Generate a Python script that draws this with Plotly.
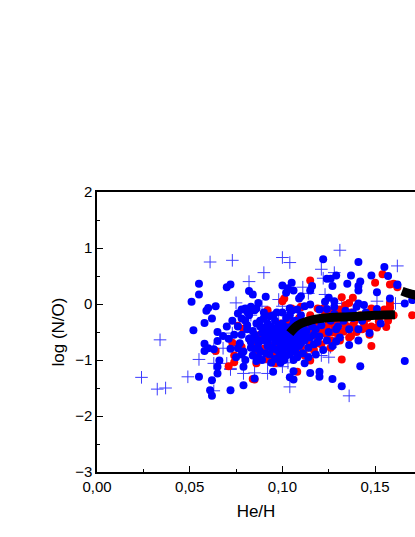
import plotly.graph_objects as go

# He/H vs log(N/O) -- filled blue and red circles, blue plus signs, black model track
blue_x = [
    0.055, 0.055, 0.051, 0.060, 0.064, 0.070, 0.072, 0.082, 0.059, 0.062, 0.058, 0.052,
    0.065, 0.068, 0.065, 0.071, 0.058, 0.058, 0.060, 0.063, 0.076, 0.078, 0.076, 0.078,
    0.079, 0.065, 0.065, 0.055, 0.062, 0.061, 0.062, 0.072, 0.079, 0.066,
    0.122, 0.124, 0.126, 0.084, 0.091, 0.087, 0.085, 0.100, 0.105, 0.103, 0.102, 0.106,
    0.110, 0.109, 0.116, 0.115, 0.112, 0.115, 0.120, 0.125, 0.128, 0.123, 0.128, 0.104, 0.124,
    0.141, 0.155, 0.137, 0.129, 0.148, 0.157, 0.135, 0.142, 0.141, 0.141, 0.127, 0.162,
    0.151, 0.158, 0.166, 0.170, 0.141, 0.144, 0.162,
    0.166, 0.142, 0.132, 0.127, 0.141, 0.147, 0.141, 0.136, 0.129, 0.129, 0.138, 0.151,
    0.120, 0.120, 0.115, 0.104, 0.106, 0.095, 0.112, 0.106, 0.085,
    0.080, 0.081, 0.082, 0.083, 0.084, 0.085, 0.086, 0.087, 0.088, 0.089, 0.090, 0.090,
    0.091, 0.092, 0.093, 0.094, 0.094, 0.095, 0.096, 0.096, 0.097, 0.097, 0.098, 0.098,
    0.099, 0.099, 0.100, 0.100, 0.101, 0.101, 0.102, 0.102, 0.103, 0.103, 0.104, 0.104,
    0.105, 0.105, 0.106, 0.106, 0.107, 0.107, 0.108, 0.108, 0.109, 0.110, 0.110, 0.111,
    0.112, 0.112, 0.113, 0.114, 0.115, 0.116, 0.117, 0.118, 0.118, 0.120, 0.121, 0.122,
    0.123, 0.124, 0.125, 0.126, 0.127, 0.128, 0.130, 0.131, 0.133, 0.134, 0.136, 0.138,
    0.140, 0.143, 0.145, 0.150, 0.153,
    0.078, 0.077, 0.079, 0.076, 0.080, 0.082, 0.083, 0.085, 0.086, 0.088, 0.089, 0.091,
    0.092, 0.093, 0.095, 0.095, 0.097, 0.098, 0.099, 0.100, 0.101, 0.102, 0.103, 0.104,
    0.105, 0.106, 0.107, 0.108, 0.109, 0.110,
    0.072, 0.074, 0.075, 0.070, 0.073, 0.080, 0.083, 0.086, 0.104, 0.078, 0.081,
    0.081, 0.083, 0.084, 0.086, 0.087, 0.088, 0.089, 0.091, 0.092, 0.093, 0.094, 0.096,
    0.097, 0.098, 0.099, 0.100, 0.101, 0.102, 0.103, 0.105, 0.106, 0.107, 0.108, 0.109,
    0.111, 0.113, 0.114, 0.116, 0.117, 0.119, 0.087, 0.090, 0.093, 0.096, 0.099, 0.102,
]
blue_y = [
    0.36, 0.17, 0.04, -0.07, -0.04, 0.30, 0.35, 0.23, -0.12, -0.26, -0.34, -0.47,
    -0.50, -0.57, -0.66, -0.62, -0.71, -0.84, -0.79, -0.81, -0.17, -0.26, -0.79, -0.90,
    -1.12, -1.12, -1.24, -1.30, -1.36, -1.54, -1.64, -1.54, -1.45, -1.01,
    0.80, 0.45, 0.45, 0.17, 0.13, 0.02, -0.11, 0.33, 0.38, 0.28, 0.20, 0.24,
    0.14, 0.10, 0.32, 0.24, -0.04, -0.01, -0.10, 0.11, 0.05, 0.04, -0.05, -0.08, -0.09,
    0.75, 0.66, 0.51, 0.51, 0.51, 0.50, 0.36, 0.40, 0.32, 0.24, 0.32, 0.35,
    0.21, 0.10, 0.01, 0.07, 0.01, -0.02, 0.34,
    -1.02, -1.11, -1.47, -1.34, -0.45, -0.52, -0.65, -0.73, -0.67, -0.45, -0.15, -0.09,
    -1.30, -1.21, -1.23, -1.31, -1.35, -1.21, -1.06, -1.20, -1.33,
    -0.30, -0.45, -0.62, -0.78, -0.92, -0.55, -0.35, -0.70, -0.85, -1.00, -0.25, -0.48,
    -0.60, -0.75, -0.90, -0.40, -1.05, -0.55, -0.68, -0.30, -0.82, -0.15, -0.45, -0.95,
    -0.60, -0.72, -0.35, -0.85, -0.50, -1.00, -0.65, -0.25, -0.78, -0.42, -0.90, -0.58,
    -0.70, -0.12, -0.48, -0.82, -0.30, -0.62, -0.95, -0.40, -0.75, -0.55, -0.20, -0.88,
    -0.65, -0.35, -0.48, -0.78, -0.60, -0.28, -0.72, -0.45, -0.90, -0.58, -0.38, -0.82,
    -0.25, -0.65, -0.50, -0.30, -0.75, -0.18, -0.40, -0.60, -0.30, -0.12, -0.45, -0.25,
    -0.05, -0.30, -0.15, -0.20, -0.35,
    -0.55, -0.70, -0.85, -0.40, -1.00, -0.20, -0.05, -0.80, -1.02, -0.40, -0.65, -0.88,
    -0.35, -0.52, -0.80, -0.20, -0.50, -0.65, -1.05, -0.15, -0.75, -0.92, -0.55, -0.20,
    -0.40, -1.00, -0.85, -0.10, -0.50, -0.70,
    -0.80, -0.55, -0.95, -0.40, -0.30, -0.08, -0.12, -0.08, -0.08, -0.10, -0.14,
    -0.38, -0.68, -0.48, -0.62, -0.80, -0.30, -0.52, -0.42, -0.70, -0.60, -0.78, -0.48,
    -0.62, -0.38, -0.80, -0.52, -0.40, -0.72, -0.62, -0.85, -0.32, -0.55, -0.72, -0.60,
    -0.42, -0.58, -0.95, -0.40, -0.55, -0.68, -0.95, -0.15, -0.22, -0.98, -0.90, -0.78,
]

red_x = [
    0.076, 0.073, 0.074, 0.074, 0.071, 0.079, 0.078, 0.064,
    0.115, 0.101, 0.100, 0.110, 0.105, 0.122,
    0.154, 0.150, 0.158, 0.160, 0.132, 0.138, 0.136, 0.134, 0.158, 0.158, 0.148, 0.162,
    0.170, 0.158, 0.152, 0.156, 0.145, 0.148, 0.132, 0.137, 0.133, 0.138, 0.127,
    0.085, 0.108, 0.086, 0.096, 0.115, 0.084,
    0.092, 0.110, 0.119, 0.127,
    0.088, 0.090, 0.092, 0.093, 0.095, 0.096, 0.098, 0.099, 0.100, 0.101, 0.102, 0.103,
    0.104, 0.105, 0.106, 0.107, 0.108, 0.109, 0.110, 0.111, 0.112, 0.113, 0.114, 0.115,
    0.116, 0.117, 0.118, 0.119, 0.120, 0.121, 0.122, 0.123, 0.124, 0.125, 0.126, 0.128,
    0.129, 0.130, 0.131, 0.132, 0.134, 0.135, 0.137, 0.139, 0.140, 0.142, 0.144, 0.146,
    0.148, 0.150, 0.152, 0.155, 0.157, 0.160, 0.084, 0.086,
    0.094, 0.097, 0.099, 0.102, 0.104, 0.107, 0.109, 0.112, 0.114, 0.117, 0.119, 0.121,
    0.124, 0.126, 0.129, 0.131, 0.134, 0.136, 0.139, 0.143, 0.147, 0.151, 0.154, 0.091,
]
red_y = [
    -0.39, -0.69, -0.92, -1.04, -1.11, -0.44, -0.77, -0.84,
    0.42, 0.10, 0.05, -0.05, -0.08, -0.08,
    0.53, 0.38, 0.35, 0.36, 0.12, 0.11, 0.02, -0.02, 0.02, -0.05, -0.08, 0.30,
    -0.20, -0.07, -0.31, -0.41, -0.43, -0.75, -0.99, -0.57, -0.49, -0.38, -0.51,
    -1.35, -1.21, -1.06, -1.06, -1.01, -1.34,
    -0.11, -0.06, -0.08, -0.12,
    -0.55, -0.80, -0.65, -0.95, -0.45, -0.88, -0.72, -0.35, -0.62, -0.90, -0.45, -0.30,
    -0.70, -0.55, -0.85, -0.40, -0.62, -0.25, -0.78, -0.50, -0.92, -0.35, -0.65, -0.20,
    -0.50, -0.82, -0.38, -0.60, -0.28, -0.72, -0.45, -0.15, -0.55, -0.32, -0.65, -0.40,
    -0.22, -0.55, -0.10, -0.35, -0.25, -0.45, -0.15, -0.30, -0.50, -0.20, -0.35, -0.25,
    -0.40, -0.15, -0.25, -0.10, -0.30, -0.20, -0.70, -0.92,
    -0.75, -0.58, -0.82, -0.68, -0.48, -0.75, -0.88, -0.42, -0.78, -0.30, -0.70, -0.52,
    -0.40, -0.78, -0.30, -0.65, -0.38, -0.60, -0.42, -0.45, -0.55, -0.42, -0.20, -0.98,
]

plus_x = [
    0.034, 0.024, 0.0325, 0.037, 0.049, 0.055, 0.063, 0.063, 0.073, 0.068, 0.070, 0.079,
    0.072, 0.061, 0.073, 0.075, 0.082, 0.063, 0.072,
    0.100, 0.104, 0.090, 0.121, 0.122, 0.111, 0.114, 0.123, 0.098, 0.100, 0.089,
    0.131, 0.162, 0.128, 0.151, 0.161, 0.132,
    0.136, 0.104, 0.092, 0.085, 0.100, 0.126, 0.121,
    0.085, 0.090, 0.095, 0.098, 0.100, 0.103, 0.108, 0.113, 0.118, 0.125, 0.130, 0.092,
    0.083, 0.105, 0.112,
]
plus_y = [
    -0.64, -1.31, -1.52, -1.50, -1.30, -0.99, -1.06, -1.55, -0.52, -0.79, -1.06, -1.24,
    -1.15, 0.75, 0.78, 0.02, 0.40, -0.80, -1.17,
    0.83, 0.74, 0.56, 0.62, 0.46, 0.30, 0.19, 0.17, 0.08, -0.04, -0.04,
    0.96, 0.68, 0.56, 0.05, 0.01, 0.01,
    -1.64, -1.48, -1.24, -1.23, -1.12, -0.77, -0.92,
    -0.55, -0.90, -0.62, -0.30, -0.78, -1.05, -0.48, -0.88, -0.70, -0.95, -0.60, -1.05,
    -0.20, -0.15, -0.65,
]

# black model track, two pieces
track1_x = [0.104, 0.1068, 0.110, 0.1133, 0.118, 0.1257, 0.134, 0.1419, 0.150, 0.1607]
track1_y = [-0.52, -0.42, -0.35, -0.31, -0.27, -0.24, -0.23, -0.22, -0.20, -0.19]
track2_x = [0.1645, 0.168, 0.1715, 0.176]
track2_y = [0.23, 0.19, 0.16, 0.10]

fig = go.Figure()
fig.add_trace(go.Scatter(
    x=plus_x, y=plus_y, mode="markers",
    marker=dict(symbol="cross-thin", size=9, line=dict(color="#3b3bff", width=1)),
))
fig.add_trace(go.Scatter(
    x=red_x, y=red_y, mode="markers",
    marker=dict(symbol="circle", size=8, color="#ff0000"),
))
fig.add_trace(go.Scatter(
    x=blue_x, y=blue_y, mode="markers",
    marker=dict(symbol="circle", size=8, color="#0000ff"),
))
for tx, ty in [(track1_x, track1_y), (track2_x, track2_y)]:
    fig.add_trace(go.Scatter(
        x=tx, y=ty, mode="lines",
        line=dict(color="black", width=9, shape="spline"),
    ))

fig.update_layout(
    width=415, height=537,
    margin=dict(l=97, r=0, t=192, b=65),
    paper_bgcolor="white", plot_bgcolor="white",
    showlegend=False,
    separators=",.",
    font=dict(family="Liberation Sans, Arial, sans-serif", size=14, color="black"),
)
fig.update_xaxes(
    range=[0, 0.17152], dtick=0.05, tick0=0, tickformat=".2f",
    ticks="inside", ticklen=6, tickwidth=1, tickcolor="black",
    minor=dict(ticks="inside", ticklen=3, dtick=0.025, tickcolor="black"),
    showline=True, linecolor="black", linewidth=1.5, mirror=True,
    showgrid=False, zeroline=False,
    tickfont=dict(size=15),
    title=dict(text="He/H", standoff=11),
)
fig.update_yaxes(
    range=[-3, 2], dtick=1, tick0=0,
    ticks="inside", ticklen=6, tickwidth=1, tickcolor="black",
    minor=dict(ticks="inside", ticklen=3, dtick=0.5, tickcolor="black"),
    showline=True, linecolor="black", linewidth=1.5,
    showgrid=False, zeroline=False,
    tickfont=dict(size=15),
    title=dict(text="log (N/O)", standoff=6),
)

# drop the page's default body margin so the figure fills the window exactly
fig.write_html(
    "out.html",
    config={"displayModeBar": False},
    post_script="document.body.style.margin='0';document.body.style.overflow='hidden';",
)
